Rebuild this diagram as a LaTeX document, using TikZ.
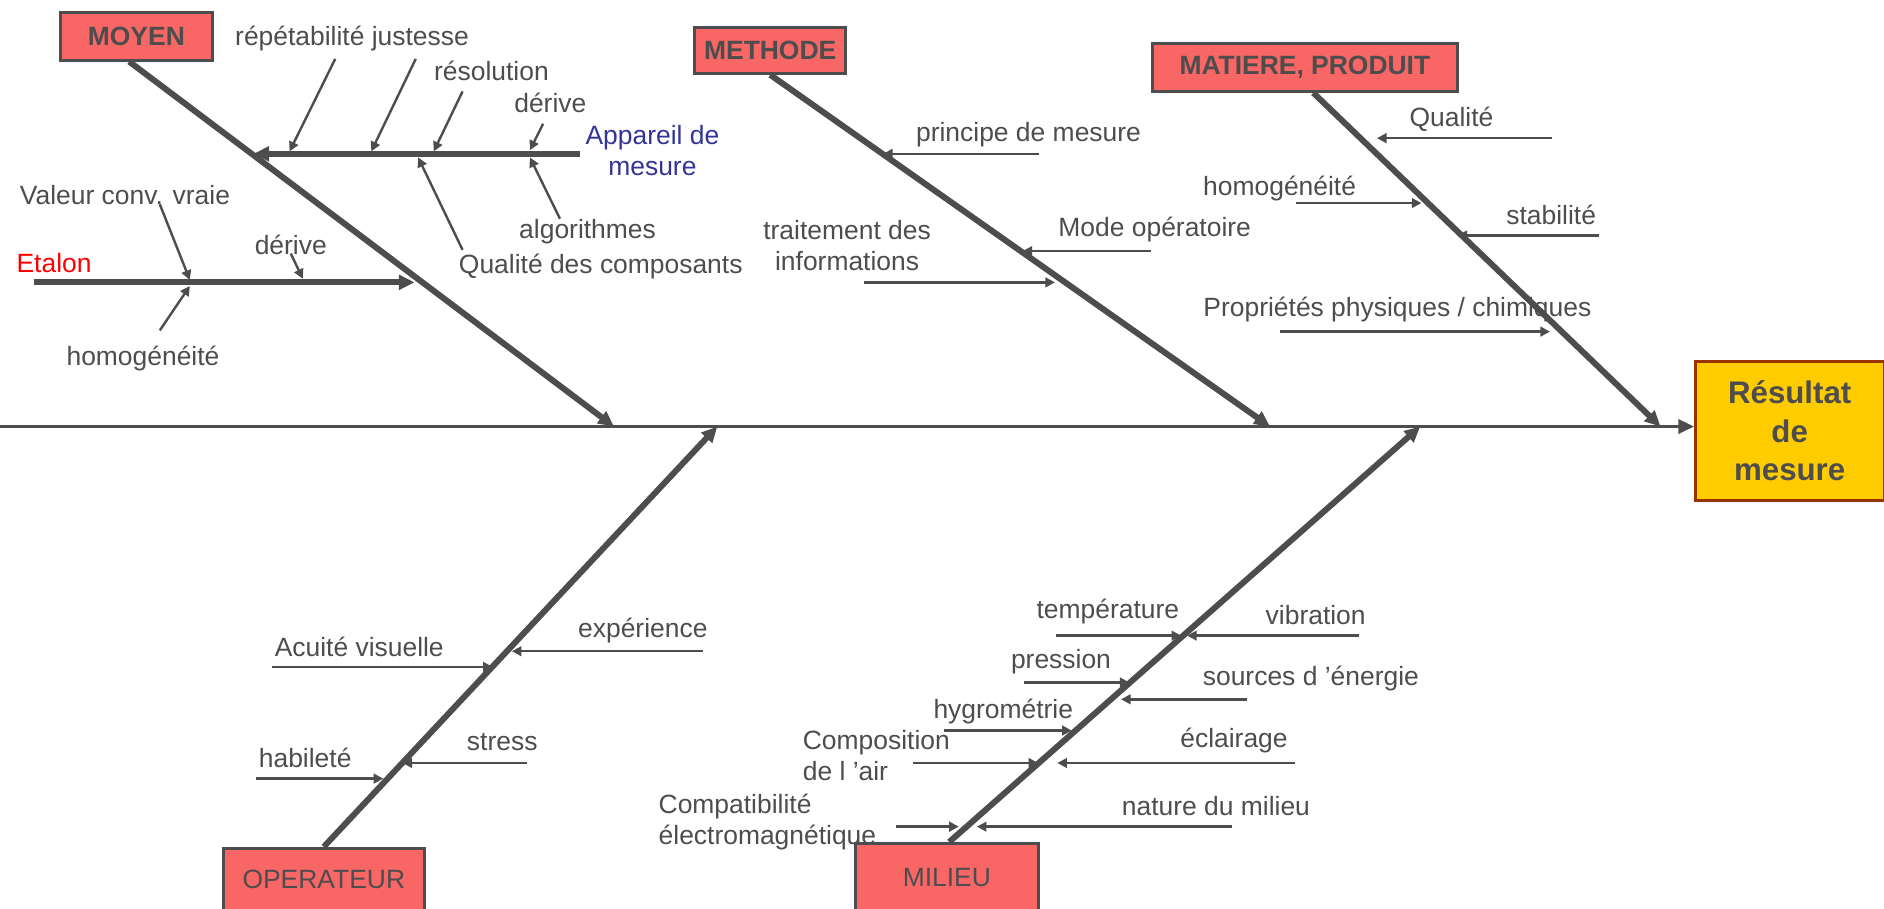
\documentclass[tikz,border=0pt]{standalone}
\usepackage{fontspec}
\setmainfont{Liberation Sans}
\usetikzlibrary{arrows.meta}
\definecolor{gris}{RGB}{77,77,77}
\definecolor{rouge}{RGB}{248,102,102}
\definecolor{jaune}{RGB}{255,204,0}
\definecolor{brun}{RGB}{153,51,0}
\definecolor{bleu}{RGB}{51,51,153}
\begin{document}
\begin{tikzpicture}[x=1pt,y=-1pt,
        lab/.style={inner sep=0pt,text=gris,font=\fontsize{22}{26}\selectfont},
        cause/.style={draw=gris,line width=2.5pt,fill=rouge,text=gris,inner sep=0pt,minimum height=40pt,font=\fontsize{22}{26}\selectfont},
        bone/.style={draw=gris,line width=5pt,-{Triangle[length=13pt,width=12pt]}},
        sub/.style={draw=gris,line width=2pt,-{Triangle[length=8pt,width=8pt]}}]
            \useasboundingbox (0,0) rectangle (1568,756);
            \node[lab] (RJ) at (293,32){répétabilité justesse};
            \node[lab] (RE) at (409,59){résolution};
            \node[lab] (DE) at (458,86){dérive};
            \node[lab,text=bleu,align=center] (AP) at (543,125){Appareil de\\mesure};
            \node[lab] (AL) at (489,193){algorithmes};
            \node[lab] (QC) at (500,222){Qualité des composants};
            \node[lab] (VC) at (104,162){Valeur conv. vraie};
            \node[lab,text=red] (ET) at (45,219){Etalon};
            \node[lab] (DE2) at (242,204){dérive};
            \node[lab] (HO) at (119,298){homogénéité};
            \node[lab] (PM) at (856,112){principe de mesure};
            \node[lab] (MD) at (961,191){Mode opératoire};
            \node[lab,align=center] (TI) at (705,204.5){traitement des\\informations};
            \node[lab] (QU) at (1208,99){Qualité};
            \node[lab] (HO2) at (1065,157){homogénéité};
            \node[lab] (ST) at (1291,179){stabilité};
            \node[lab] (PP) at (1163,258){Propriétés physiques / chimiques};
            \node[lab] (AV) at (299,538){Acuité visuelle};
            \node[lab] (EX) at (535,525){expérience};
            \node[lab] (SR) at (418,618){stress};
            \node[lab] (HA) at (254,631){habileté};
            \node[lab] (TE) at (922,509){température};
            \node[lab] (VI) at (1095,512){vibration};
            \node[lab] (PR) at (883,551){pression};
            \node[lab] (SE) at (1091,565){sources d ’énergie};
            \node[lab] (HY) at (835,592){hygrométrie};
            \node[lab,align=left,anchor=west] (CA) at (668,628.5){Composition\\de l ’air};
            \node[lab] (EC) at (1027,616){éclairage};
            \node[lab,align=left,anchor=west] (CE) at (548,684){Compatibilité\\électromagnétique};
            \node[lab] (NM) at (1012,671){nature du milieu};
            \node[cause,font=\bfseries\fontsize{22}{26}\selectfont,minimum width=127pt] (MO) at (113.5,30){MOYEN};
            \node[cause,font=\bfseries\fontsize{22}{26}\selectfont,minimum width=126pt,minimum height=38pt] (ME) at (641,42){METHODE};
            \node[cause,font=\bfseries\fontsize{22}{26}\selectfont,minimum width=254pt] (MA) at (1086,56){MATIERE, PRODUIT};
            \node[cause,minimum width=167pt,minimum height=52pt] (OP) at (269.5,732){OPERATEUR};
            \node[cause,minimum width=152pt,minimum height=56pt] (MI) at (788,730){MILIEU};
            \node[draw=brun,line width=2.5pt,fill=jaune,text=gris,inner sep=0pt,minimum width=157pt,minimum height=116pt,align=center,font=\bfseries\fontsize{26}{32}\selectfont] (R) at (1489.5,358.5){Résultat\\de\\mesure};
            \coordinate (S0) at (0,355);
            \draw[gris,line width=2.5pt,-{Triangle[length=13pt,width=12pt]}] (S0) -- (S0 -| R.west);
            \coordinate (MO1) at (511,355);
            \coordinate (ME1) at (1057,355);
            \coordinate (MA1) at (1382,355);
            \coordinate (OP1) at (597,355);
            \coordinate (MI1) at (1182,355);
            \draw[bone] ([xshift=-6pt]MO.south) -- (MO1);
            \draw[bone] (ME.south) -- (ME1);
            \draw[bone] ([xshift=7pt]MA.south) -- (MA1);
            \draw[bone] (OP.north) -- (OP1);
            \draw[bone] ([xshift=2pt]MI.north) -- (MI1);
            \coordinate (AP0) at (483,128); \coordinate (AP1) at (211,128);
            \draw[bone] (AP0) -- (AP1);
            \coordinate (ET0) at (28,235); \coordinate (ET1) at (345,235);
            \draw[bone] (ET0) -- (ET1);
            \coordinate (a1) at (279,49); \coordinate (b1) at (241,126); \draw[sub] (a1) -- (b1);
            \coordinate (a2) at (346,49); \coordinate (b2) at (309,126); \draw[sub] (a2) -- (b2);
            \coordinate (a3) at (385,76); \coordinate (b3) at (361,126); \draw[sub] (a3) -- (b3);
            \coordinate (a4) at (452,103); \coordinate (b4) at (441,125); \draw[sub] (a4) -- (b4);
            \coordinate (a5) at (385,208); \coordinate (b5) at (348,131); \draw[sub] (a5) -- (b5);
            \coordinate (a6) at (466,182); \coordinate (b6) at (441,131); \draw[sub] (a6) -- (b6);
            \coordinate (a7) at (133,170); \coordinate (b7) at (158,233); \draw[sub] (a7) -- (b7);
            \coordinate (a8) at (133,275); \coordinate (b8) at (158,238); \draw[sub] (a8) -- (b8);
            \coordinate (a9) at (242,211); \coordinate (b9) at (252,232); \draw[sub] (a9) -- (b9);
            \coordinate (c1) at (865,128); \coordinate (d1) at (735,128); \draw[sub] (c1) -- (d1);
            \coordinate (c2) at (958,209); \coordinate (d2) at (851,209); \draw[sub] (c2) -- (d2);
            \coordinate (c3) at (719,235); \coordinate (d3) at (878,235); \draw[sub] (c3) -- (d3);
            \coordinate (e1) at (1292,115); \coordinate (f1) at (1146,115); \draw[sub] (e1) -- (f1);
            \coordinate (e2) at (1079,169); \coordinate (f2) at (1183,169); \draw[sub] (e2) -- (f2);
            \coordinate (e3) at (1331,196); \coordinate (f3) at (1213,196); \draw[sub] (e3) -- (f3);
            \coordinate (e4) at (1065,276); \coordinate (f4) at (1290,276); \draw[sub] (e4) -- (f4);
            \coordinate (g1) at (226,555); \coordinate (h1) at (410,555); \draw[sub] (g1) -- (h1);
            \coordinate (g2) at (585,542); \coordinate (h2) at (426,542); \draw[sub] (g2) -- (h2);
            \coordinate (g3) at (439,635); \coordinate (h3) at (335,635); \draw[sub] (g3) -- (h3);
            \coordinate (g4) at (213,648); \coordinate (h4) at (319,648); \draw[sub] (g4) -- (h4);
            \coordinate (k1) at (879,529); \coordinate (l1) at (983,529); \draw[sub] (k1) -- (l1);
            \coordinate (k2) at (1131,529); \coordinate (l2) at (988,529); \draw[sub] (k2) -- (l2);
            \coordinate (k3) at (852,568); \coordinate (l3) at (940,568); \draw[sub] (k3) -- (l3);
            \coordinate (k4) at (1038,582); \coordinate (l4) at (933,582); \draw[sub] (k4) -- (l4);
            \coordinate (k5) at (786,608); \coordinate (l5) at (892,608); \draw[sub] (k5) -- (l5);
            \coordinate (k6) at (760,635); \coordinate (l6) at (864,635); \draw[sub] (k6) -- (l6);
            \coordinate (k7) at (1078,635); \coordinate (l7) at (880,635); \draw[sub] (k7) -- (l7);
            \coordinate (k8) at (746,688); \coordinate (l8) at (798,688); \draw[sub] (k8) -- (l8);
            \coordinate (k9) at (1025,688); \coordinate (l9) at (813,688); \draw[sub] (k9) -- (l9);
        \end{tikzpicture}
\end{document}
